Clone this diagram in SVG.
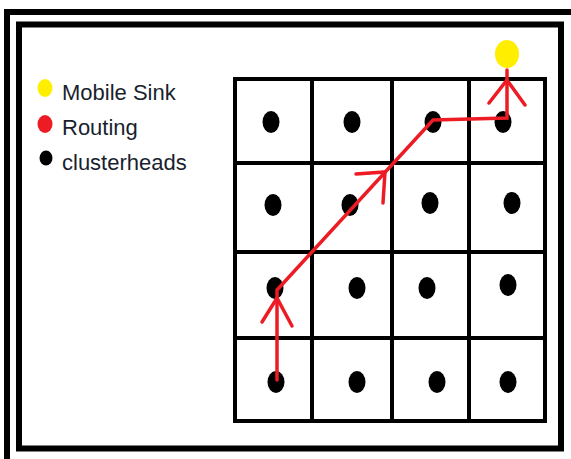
<svg xmlns="http://www.w3.org/2000/svg" width="571" height="459" viewBox="0 0 571 459">
<style>
.frame{fill:none;stroke:#000;stroke-width:6}
.grid{fill:none;stroke:#000;stroke-width:4}
.ch{fill:#000}
.route{fill:none;stroke:#ed1c24;stroke-width:3.5;stroke-linejoin:miter;stroke-linecap:round}
.lbl{font-family:"Liberation Sans",Arial,sans-serif;font-size:22px;fill:#1a1f2e}
</style>
<rect width="571" height="459" fill="#fff"/>
<rect class="frame" x="7" y="12" width="575" height="452"/>
<rect class="frame" x="19" y="24.5" width="542" height="424"/>
<g id="legend">
<ellipse cx="45" cy="88" rx="7.5" ry="9" fill="#ffee00"/>
<text class="lbl" x="62" y="100">Mobile Sink</text>
<ellipse cx="45" cy="124" rx="7.5" ry="9" fill="#ed1c24"/>
<text class="lbl" x="62" y="135">Routing</text>
<ellipse cx="46" cy="158" rx="6.5" ry="7.5" fill="#000"/>
<text class="lbl" x="62" y="170">clusterheads</text>
</g>
<g id="grid">
<rect class="grid" x="235" y="79" width="310" height="342"/>
<line class="grid" x1="312" y1="79" x2="312" y2="421"/>
<line class="grid" x1="392" y1="79" x2="392" y2="421"/>
<line class="grid" x1="469" y1="79" x2="469" y2="421"/>
<line class="grid" x1="235" y1="163" x2="545" y2="163"/>
<line class="grid" x1="235" y1="252" x2="545" y2="252"/>
<line class="grid" x1="235" y1="338" x2="545" y2="338"/>
</g>
<g id="clusterheads">
<g id="ch-1-1"><ellipse class="ch" cx="271" cy="122" rx="8.5" ry="11"/></g>
<g id="ch-1-2"><ellipse class="ch" cx="352" cy="122" rx="8.5" ry="11"/></g>
<g id="ch-1-3"><ellipse class="ch" cx="433" cy="122" rx="8.5" ry="11"/></g>
<g id="ch-1-4"><ellipse class="ch" cx="503" cy="122" rx="8.5" ry="11"/></g>
<g id="ch-2-1"><ellipse class="ch" cx="273" cy="205" rx="8.5" ry="11"/></g>
<g id="ch-2-2"><ellipse class="ch" cx="350" cy="205" rx="8.5" ry="11"/></g>
<g id="ch-2-3"><ellipse class="ch" cx="430" cy="203" rx="8.5" ry="11"/></g>
<g id="ch-2-4"><ellipse class="ch" cx="512" cy="203" rx="8.5" ry="11"/></g>
<g id="ch-3-1"><ellipse class="ch" cx="275" cy="288" rx="8.5" ry="11"/></g>
<g id="ch-3-2"><ellipse class="ch" cx="357" cy="288" rx="8.5" ry="11"/></g>
<g id="ch-3-3"><ellipse class="ch" cx="427" cy="288" rx="8.5" ry="11"/></g>
<g id="ch-3-4"><ellipse class="ch" cx="508" cy="285" rx="8.5" ry="11"/></g>
<g id="ch-4-1"><ellipse class="ch" cx="276" cy="382" rx="8.5" ry="11"/></g>
<g id="ch-4-2"><ellipse class="ch" cx="357" cy="382" rx="8.5" ry="11"/></g>
<g id="ch-4-3"><ellipse class="ch" cx="437" cy="382" rx="8.5" ry="11"/></g>
<g id="ch-4-4"><ellipse class="ch" cx="508" cy="382" rx="8.5" ry="11"/></g>
</g>
<g id="sink"><ellipse cx="507" cy="54" rx="12" ry="14" fill="#ffee00"/></g>
<g id="connectors">
<path class="route" d="M277,380 L277,290 L433,120 L507,118 L507,70"/>
<polyline class="route" points="262,322 277,298 292,326"/>
<polyline class="route" points="356,174 385,172 383,203"/>
<polyline class="route" points="489,103 507,80 525,105"/>
</g>
</svg>
